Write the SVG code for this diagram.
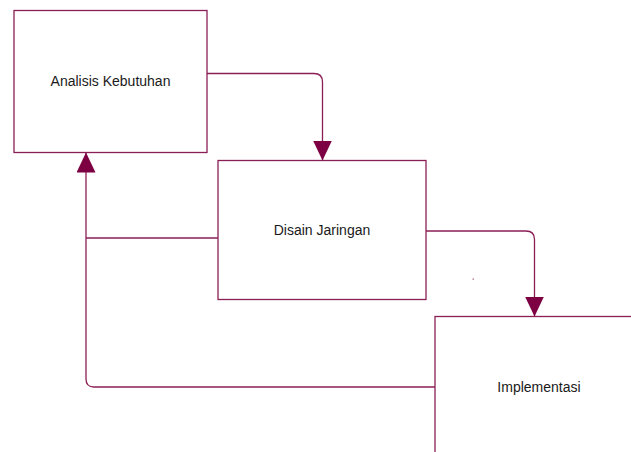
<svg xmlns="http://www.w3.org/2000/svg" width="631" height="452" viewBox="0 0 631 452">
<defs>
<style>
.box{fill:#ffffff;stroke:#8a1f55;stroke-width:1.3}
.lbl{font-family:"Liberation Sans",Arial,sans-serif;font-size:14px;fill:#1a1a1a;text-anchor:middle;dominant-baseline:central}
.con{fill:none;stroke:#8a1f55;stroke-width:1.3}
</style>
<marker id="arr" viewBox="0 0 20 19" refX="20" refY="9.5" markerWidth="20" markerHeight="19" markerUnits="userSpaceOnUse" orient="auto">
<path d="M0,0 L20,9.5 L0,19 Z" fill="#7d0042"/>
</marker>
</defs>
<rect width="631" height="452" fill="#ffffff"/>
<g id="connectors">
<path class="con" d="M207,73.5 H314 Q322.5,73.5 322.5,82 V160.5" marker-end="url(#arr)"/>
<path class="con" d="M426,231 H526 Q534.5,231 534.5,239.5 V316.5" marker-end="url(#arr)"/>
<path class="con" d="M435,387 H94 Q86,387 86,379 V152.5" marker-end="url(#arr)"/>
<path class="con" d="M218,238 H86"/>
</g>
<g id="node-analisis">
<rect class="box" x="14" y="10.5" width="193" height="142"/>
<text class="lbl" x="110.5" y="81">Analisis Kebutuhan</text>
</g>
<g id="node-disain">
<rect class="box" x="218" y="160.5" width="208" height="139"/>
<text class="lbl" x="322" y="230">Disain Jaringan</text>
</g>
<g id="node-implementasi">
<rect class="box" x="435" y="316.5" width="208" height="142"/>
<text class="lbl" x="539" y="386.5">Implementasi</text>
</g>
<rect x="472.5" y="278.5" width="1.5" height="1.2" fill="#b06080"/>
</svg>
